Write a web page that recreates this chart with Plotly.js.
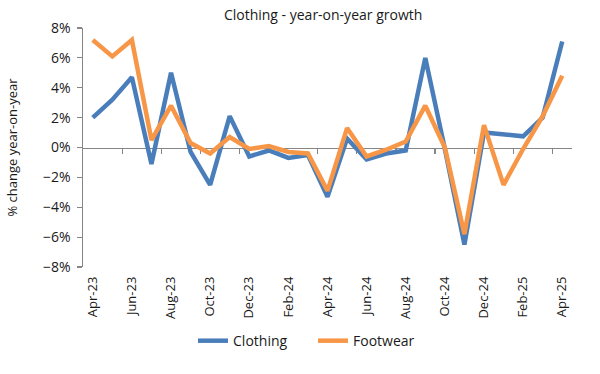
<!DOCTYPE html>
<html>
<head>
<meta charset="utf-8">
<script src="https://cdn.plot.ly/plotly-3.0.1.min.js"></script>
<style>html,body{margin:0;padding:0;background:#fff;}#chart{width:600px;height:374px;}</style>
</head>
<body>
<div id="chart"></div>
<script>
const months = ["Apr-23","May-23","Jun-23","Jul-23","Aug-23","Sep-23","Oct-23","Nov-23","Dec-23","Jan-24","Feb-24","Mar-24","Apr-24","May-24","Jun-24","Jul-24","Aug-24","Sep-24","Oct-24","Nov-24","Dec-24","Jan-25","Feb-25","Mar-25","Apr-25"];
const clothing = [2.0, 3.2, 4.7, -1.1, 5.0, -0.3, -2.5, 2.1, -0.6, -0.2, -0.7, -0.5, -3.3, 0.6, -0.8, -0.4, -0.2, 6.0, -0.1, -6.5, 1.0, 0.85, 0.75, 2.0, 7.1];
const footwear = [7.2, 6.1, 7.2, 0.5, 2.8, 0.3, -0.4, 0.7, -0.1, 0.1, -0.3, -0.4, -2.9, 1.3, -0.6, -0.15, 0.4, 2.8, 0.0, -5.8, 1.5, -2.5, -0.1, 2.1, 4.8];
const tickLabels = ["Apr-23","Jun-23","Aug-23","Oct-23","Dec-23","Feb-24","Apr-24","Jun-24","Aug-24","Oct-24","Dec-24","Feb-25","Apr-25"];

const idx = months.map((_, i) => i);
const labelIdx = tickLabels.map(l => months.indexOf(l));
const boundaryTicks = [];
for (let i = 1; i < months.length; i += 2) boundaryTicks.push(i + 0.5);

const font = "'Open Sans', Lato, sans-serif";
const axisColor = "#868686";
const txt = "#1a1a1a";

const traces = [
  {x: idx, y: clothing.map(() => null), xaxis: "x2", type: "scatter", mode: "lines",
   showlegend: false, hoverinfo: "skip"},
  {x: idx, y: clothing, name: "Clothing", type: "scatter", mode: "lines",
   line: {color: "#4A7EBB", width: 4.5}, hoverinfo: "skip"},
  {x: idx, y: footwear, name: "Footwear", type: "scatter", mode: "lines",
   line: {color: "#F79646", width: 4.5}, hoverinfo: "skip"}
];

const layout = {
  width: 600, height: 374,
  margin: {l: 83, r: 28, t: 28, b: 107},
  paper_bgcolor: "#fff", plot_bgcolor: "#fff",
  font: {family: font, color: txt, size: 13},
  title: {text: "Clothing - year-on-year growth", xref: "paper", x: 0.491, xanchor: "center", y: 0.96, yanchor: "middle",
          font: {family: font, size: 14, color: txt}},
  showlegend: true,
  legend: {orientation: "h", x: 0.225, xanchor: "left", y: -0.31, yanchor: "middle",
           font: {family: font, size: 14, color: txt}, entrywidth: 75, entrywidthmode: "pixels"},
  xaxis: {
    range: [-0.5, 24.5], tickmode: "array", tickvals: labelIdx, ticktext: tickLabels,
    tickangle: -90, showline: false, ticks: "", showgrid: false, zeroline: false,
    ticklabelstandoff: 6,
    tickfont: {family: font, size: 13, color: txt}
  },
  xaxis2: {
    overlaying: "x", matches: "x", anchor: "free", position: 0.5,
    range: [-0.5, 24.5], tickmode: "array", tickvals: boundaryTicks,
    showticklabels: false, showline: true, linecolor: axisColor, linewidth: 1.5,
    ticks: "outside", ticklen: 5, tickcolor: axisColor, tickwidth: 1.2,
    showgrid: false, zeroline: false, layer: "below traces"
  },
  yaxis: {
    range: [-8, 8], dtick: 2, tick0: 0, ticksuffix: "%",
    showline: true, linecolor: axisColor, linewidth: 1.5,
    ticks: "outside", ticklen: 5, tickcolor: axisColor, tickwidth: 1.2,
    showgrid: false, zeroline: false, ticklabelstandoff: 3,
    tickfont: {family: font, size: 14, color: txt},
    title: {text: "% change year-on-year", font: {family: font, size: 13, color: txt}, standoff: 22}
  }
};

Plotly.newPlot("chart", traces, layout, {displayModeBar: false, staticPlot: true});
</script>
</body>
</html>
